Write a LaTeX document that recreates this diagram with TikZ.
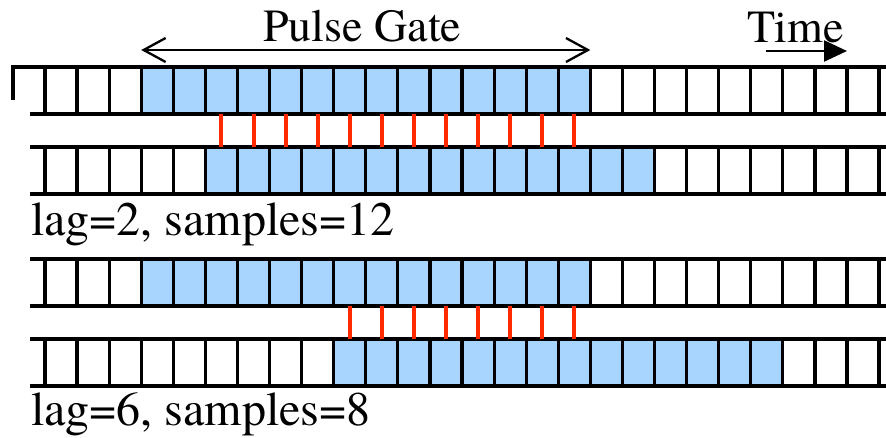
\documentclass[tikz,border=0pt]{standalone}
\usepackage{fontspec}
\setmainfont{texgyretermes-regular.otf}
\usetikzlibrary{arrows.meta}
\definecolor{gate}{HTML}{A8D5FD}
\definecolor{tapred}{HTML}{FF2A00}
\def\cw{32.08}
% one row of sample cells: #1 name, #2 top edge, #3 first gated cell, #4 last gated cell
\newcommand\cellrow[4]{%
  \foreach \k in {0,...,25}{%
    \ifnum\k<#3 \def\cc{white}\else\ifnum\k>#4 \def\cc{white}\else\def\cc{gate}\fi\fi
    \node[cell,fill=\cc] (#1c\k) at ({45+(\k+0.5)*\cw},{#2+23.5}) {};
  }%
  \draw[rule] (30,#2) -- (#1c0.north west);
  \draw[rule] (30,#2+47) -- (#1c0.south west);
  \draw[rule] (#1c25.north east) -- (890,#2);
  \draw[rule] (#1c25.south east) -- (890,#2+47);
}
\begin{document}
\begin{tikzpicture}[x=1pt,y=-1pt,
  cell/.style={draw=black,line width=3.2pt,minimum width=\cw pt,minimum height=47pt,
    inner sep=0pt,outer sep=0pt},
  rule/.style={draw=black,line width=3.2pt},
  tap/.style={draw=tapred,line width=4pt},
  lbl/.style={font=\rmfamily\fontsize{46}{50}\selectfont,inner sep=0pt,anchor=base west},
  biglbl/.style={lbl,font=\rmfamily\fontsize{48}{52}\selectfont}]
\useasboundingbox (0,0) rectangle (886,437);
\begin{scope}
\clip (0,0) rectangle (886,437);
\cellrow{r1}{67}{3}{16}
\cellrow{r2}{147}{5}{18}
\cellrow{r3}{259}{3}{16}
\cellrow{r4}{339}{9}{22}
\end{scope}
% extra left edge of the first row
\coordinate (edgeA) at (13,100);
\coordinate (edgeB) at (13,67);
\draw[rule] (edgeA) -- (edgeB) -- (r1c0.north west);
% overlapping samples
\foreach \k in {5,...,16} \draw[tap] (r1c\k.south) -- (r2c\k.north);
\foreach \k in {9,...,16} \draw[tap] (r3c\k.south) -- (r4c\k.north);
% pulse gate span
\coordinate (gL) at (r1c3.north west |- 0,50);
\coordinate (gR) at (r1c16.north east |- 0,50);
\draw[line width=2.3pt,{Straight Barb[length=22pt,width=24pt,line width=2.3pt]}-{Straight Barb[length=22pt,width=24pt,line width=2.3pt]}] (gL) -- (gR);
\node[lbl] (pg) at (263,41) {Pulse Gate};
% time direction
\node[lbl] (tm) at (747,42) {Time};
\coordinate (tA) at (766,51);
\coordinate (tB) at (847,51);
\draw[line width=2.5pt,-{Triangle[length=23pt,width=21pt]}] (tA) -- (tB);
% lag labels
\node[biglbl] (l2) at (31,235) {lag=2, samples=12};
\node[biglbl] (l6) at (31,425) {lag=6, samples=8};
\end{tikzpicture}
\end{document}
